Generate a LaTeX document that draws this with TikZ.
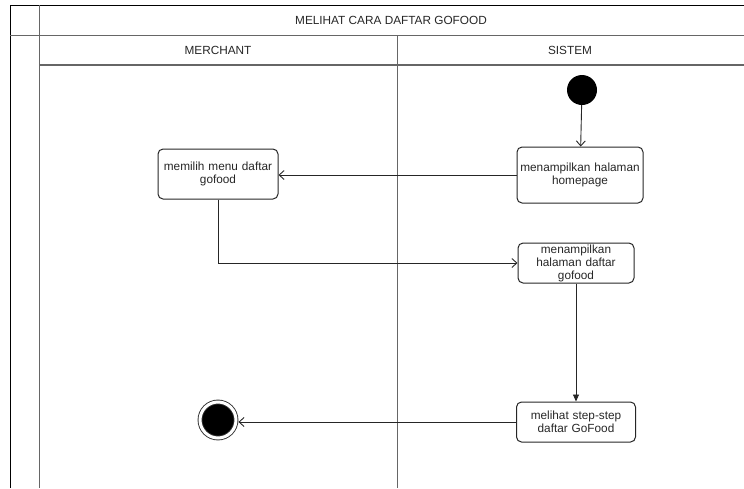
\documentclass[tikz,border=0pt]{standalone}
\usepackage{fontspec}
\setmainfont{Liberation Sans}
\usetikzlibrary{arrows.meta, positioning}

\begin{document}
\begin{tikzpicture}[
    x=1pt, y=-1pt,
    every node/.style={font=\fontsize{11.8}{13}\selectfont, text=black!85},
    lane/.style={draw=black!60, line width=1pt},
    activity/.style={
        rectangle,
        rounded corners=5pt,
        draw=black!85,
        line width=1pt,
        text width=#1,
        minimum width=#1,
        inner sep=1.5pt,
        align=center
    },
    startnode/.style={
        circle,
        fill=black,
        minimum size=30pt,
        inner sep=0pt
    },
    endnode/.style={
        circle,
        fill=black,
        draw=black!80,
        line width=0.9pt,
        double=white,
        double distance=3pt,
        minimum size=36pt,
        inner sep=0pt,
        outer sep=2.4pt
    },
    arrow/.style={
        draw=black!85,
        line width=0.9pt,
        -{Straight Barb[length=5pt, width=9pt]}
    },
    arrowfill/.style={
        draw=black!85,
        line width=0.9pt,
        -{Triangle[length=7pt, width=6pt]}
    }
]
\useasboundingbox (0,0) rectangle (744,488);

% --- swimlane frame ---
\draw[black, line width=1pt] (10,488) -- (10,5) -- (744,5);
\draw[lane] (10,35) -- (744,35);
\draw[lane] (39,5) -- (39,488);
\draw[lane, line width=1.6pt] (39,65) -- (744,65);
\draw[lane] (397,35) -- (397,488);

% --- lane headers ---
\node (title) at (391,20) {MELIHAT CARA DAFTAR GOFOOD};
\node (merchant) at (218,50) {MERCHANT};
\node (sistem) at (570,50) {SISTEM};

% --- activities ---
\node (start) [startnode] at (582,90) {};
\node (homepage) [activity=123pt, minimum height=56pt] at (580,175) {menampilkan halaman\\homepage};
\node (memilih) [activity=117pt, minimum height=50pt] at (218,174) {memilih menu daftar\\gofood};
\node (daftar) [activity=116pt, minimum height=40pt, inner sep=0pt] at (576,263) {menampilkan\\halaman daftar\\gofood};
\node (melihat) [activity=116pt, minimum height=40pt] at (576,422) {melihat step-step\\daftar GoFood};
\node (finish) [endnode] at (218,420) {};

% --- flows ---
\draw [arrow] (start) -- (homepage);
\draw [arrow] (homepage.west) -- (homepage.west -| memilih.east);
\draw [arrow] (memilih) |- (daftar);
\draw [arrowfill] (daftar) -- (melihat);
\draw [arrow] (melihat.west) -- (melihat.west -| finish.east);

\end{tikzpicture}
\end{document}
